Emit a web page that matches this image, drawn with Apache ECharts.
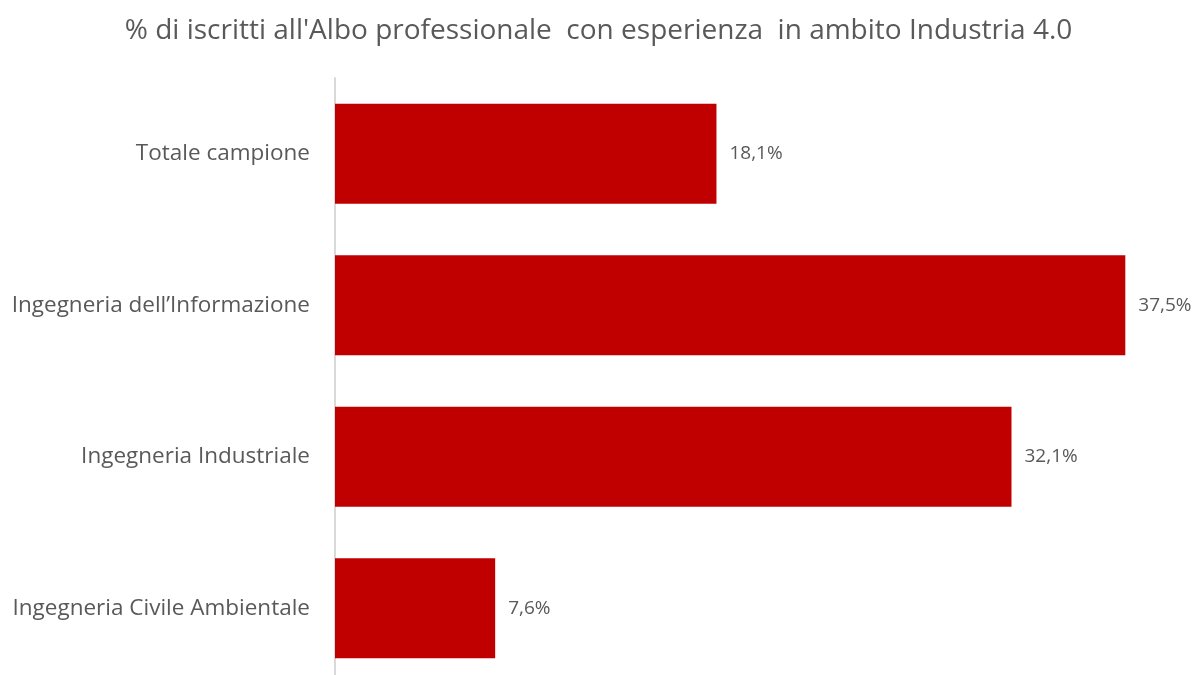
<!DOCTYPE html>
<html><head><meta charset="utf-8">
<script src="https://cdn.jsdelivr.net/npm/echarts@6/dist/echarts.min.js"></script>
<style>html,body{margin:0;padding:0;background:#fff}#c{width:1197px;height:675px}</style>
</head><body><div id="c"></div>
<script>
const titleText = "% di iscritti all'Albo professionale  con esperienza  in ambito Industria 4.0";
const categories = ["Totale campione", "Ingegneria dell\u2019Informazione", "Ingegneria Industriale", "Ingegneria Civile Ambientale"];
const values = [18.1, 37.5, 32.1, 7.6];

const chart = echarts.init(document.getElementById('c'), null, {renderer: 'canvas'});
chart.setOption({
  animation: false,
  backgroundColor: '#ffffff',
  title: {
    text: titleText, left: 'center', top: 12,
    textStyle: {fontFamily: 'Open Sans', fontSize: 28, fontWeight: 'normal', color: '#595959'}
  },
  grid: {left: 335, right: 19, top: 78, height: 606, outerBoundsMode: 'none', containLabel: false},
  xAxis: {type: 'value', min: 0, max: 40, show: false},
  yAxis: {
    type: 'category', data: categories, inverse: true,
    axisLine: {show: true, lineStyle: {color: '#d9d9d9', width: 2}},
    axisTick: {show: false},
    axisLabel: {fontFamily: 'Open Sans', fontSize: 22.5, color: '#595959', margin: 25}
  },
  series: [{
    type: 'bar', data: values, barCategoryGap: '34%',
    itemStyle: {color: '#c00000'},
    label: {
      show: true, position: 'right', distance: 13,
      fontFamily: 'Open Sans', fontSize: 19, color: '#595959',
      formatter: p => p.value.toFixed(1).replace('.', ',') + '%'
    }
  }]
});
</script></body></html>
